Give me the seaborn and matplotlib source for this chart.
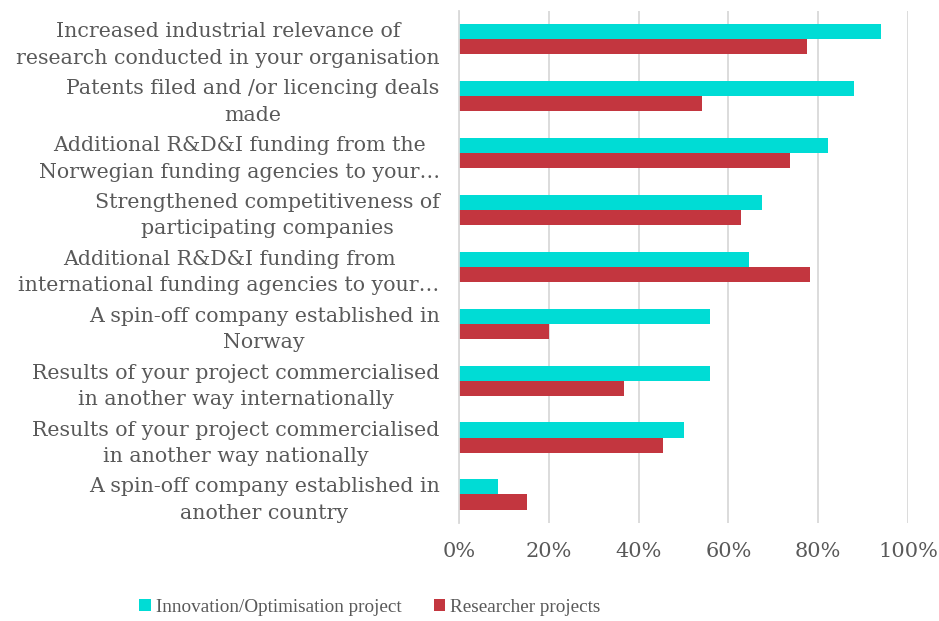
import matplotlib
matplotlib.use('Agg')
import matplotlib.pyplot as plt
import pandas as pd
import seaborn as sns
from matplotlib.ticker import PercentFormatter

items = [
    'Increased industrial relevance of\nresearch conducted in your organisation',
    'Patents filed and /or licencing deals\nmade',
    'Additional R&D&I funding from the\nNorwegian funding agencies to your…',
    'Strengthened competitiveness of\nparticipating companies',
    'Additional R&D&I funding from\ninternational funding agencies to your…',
    'A spin-off company established in\nNorway',
    'Results of your project commercialised\nin another way internationally',
    'Results of your project commercialised\nin another way nationally',
    'A spin-off company established in\nanother country',
]
innovation = [0.94, 0.88, 0.822, 0.674, 0.646, 0.558, 0.558, 0.50, 0.087]
researcher = [0.776, 0.542, 0.738, 0.629, 0.782, 0.20, 0.368, 0.455, 0.151]
groups = ['Innovation/Optimisation project', 'Researcher projects']
colors = ['#00DCD5', '#C3363F']

df = pd.DataFrame({
    'item': items * 2,
    'value': innovation + researcher,
    'group': [groups[0]] * len(items) + [groups[1]] * len(items),
})

sns.set_style('white')
plt.rcParams['font.family'] = ['DejaVu Serif']
text_col = '#595959'

fig = plt.figure(figsize=(9.39, 6.21), dpi=100)
ax = fig.add_axes([0.489, 0.158, 0.478, 0.8245])

sns.barplot(data=df, y='item', x='value', hue='group', orient='h',
            palette=colors, saturation=1, width=0.53, linewidth=0, ax=ax)

ax.set_xlim(0, 1)
ax.set_xticks([0, 0.2, 0.4, 0.6, 0.8, 1.0])
ax.xaxis.set_major_formatter(PercentFormatter(1.0, decimals=0))
ax.grid(axis='x', color='#d9d9d9', linewidth=1.3)
ax.set_axisbelow(True)
for s in ['top', 'right', 'bottom']:
    ax.spines[s].set_visible(False)
ax.spines['left'].set_color('#d9d9d9')
ax.spines['left'].set_linewidth(1.3)
ax.set_xlabel('')
ax.set_ylabel('')
ax.tick_params(axis='x', colors=text_col, labelsize=15, length=0, pad=14)
ax.tick_params(axis='y', colors=text_col, labelsize=14.8, length=0, pad=14)
for lbl in ax.get_yticklabels():
    lbl.set_multialignment('center')
    lbl.set_linespacing(1.5)

ax.legend(loc='center', bbox_to_anchor=(-0.199, -0.165), ncol=2,
          frameon=False, labelcolor=text_col, handlelength=0.6,
          prop={'family': 'Liberation Serif', 'size': 13.8},
          handleheight=0.6, handletextpad=0.25, columnspacing=1.7)

fig.savefig('out.png', dpi=100)
